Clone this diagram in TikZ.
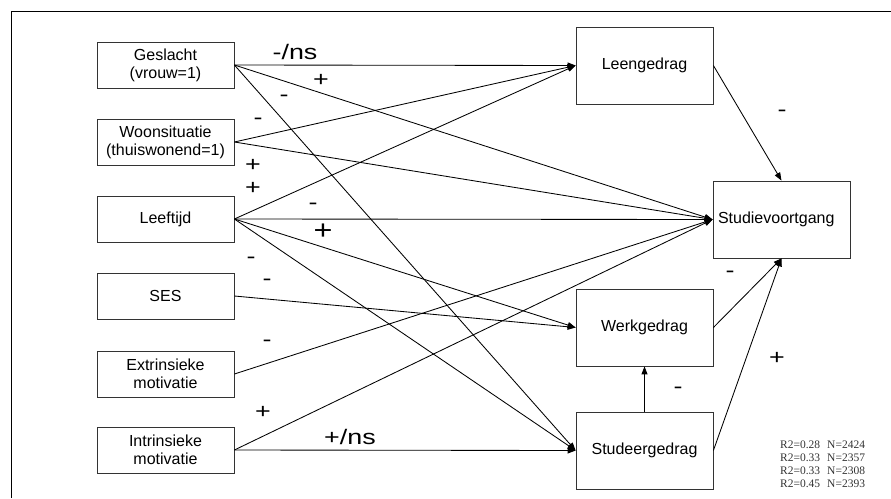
\documentclass[tikz,border=0pt]{standalone}
\usepackage{fontspec}
\usepackage{graphicx}
\setmainfont{Liberation Sans}
\newfontfamily\timesfont{Liberation Serif}
\usetikzlibrary{arrows.meta}
\begin{document}
\begin{tikzpicture}[x=1pt,y=-1pt,
  lbox/.style={draw=black!80, line width=0.8pt, minimum width=137pt, minimum height=46pt,
    align=center, inner sep=0pt, font=\fontsize{16}{18}\selectfont},
  rbox/.style={lbox, minimum height=77pt},
  arr/.style={-{Triangle[length=8pt,width=6pt]}, line width=0.85pt},
  sgn/.style={inner sep=0pt, font=\fontsize{21}{21}\selectfont},
  bigsgn/.style={inner sep=0pt, font=\fontsize{27}{27}\selectfont}]
\useasboundingbox (0,0) rectangle (891,498);
\fill[white] (0,0) rectangle (891,498);
\draw[line width=0.9pt] (11.5,498) -- (11.5,11.5) -- (891,11.5);

% left boxes
\node[lbox] (g) at (165.5,65) {Geslacht\\(vrouw=1)};
\node[lbox] (w) at (165.5,142) {Woonsituatie\\(thuiswonend=1)};
\node[lbox] (l) at (165.5,219) {Leeftijd};
\node[lbox] (s) at (165.5,296) {SES};
\node[lbox] (e) at (165.5,374) {Extrinsieke\\motivatie};
\node[lbox] (i) at (165.5,450) {Intrinsieke\\motivatie};

% right boxes
\node[rbox] (lg) at (644.5,65.5) {Leengedrag};
\node[rbox, text width=127pt, align=left, inner xsep=5pt] (sv) at (781.5,219.5) {Studievoortgang};
\node[rbox] (wg) at (644.5,327.5) {Werkgedrag};
\node[rbox] (sg) at (644.5,450.5) {Studeergedrag};

% connectors
\draw[arr] (g.east) -- (lg.west);
\draw[arr] (g.east) -- (sv.west);
\draw[arr] (g.east) -- (sg.west);
\draw[arr] (w.east) -- (lg.west);
\draw[arr] (w.east) -- (sv.west);
\draw[arr] (l.east) -- (lg.west);
\draw[arr] (l.east) -- (sv.west);
\draw[arr] (l.east) -- (wg.west);
\draw[arr] (l.east) -- (sg.west);
\draw[arr] (s.east) -- (wg.west);
\draw[arr] (e.east) -- (sv.west);
\draw[arr] (i.east) -- (sv.west);
\draw[arr] (i.east) -- (sg.west);
\draw[arr] (lg.east) -- (sv.north);
\draw[arr] (wg.east) -- (sv.south);
\draw[arr] (sg.east) -- (sv.south);
\draw[arr] (sg.north) -- (wg.south);

% labels
\node[sgn] (t1) at (295,52) {\scalebox{1.28}[1]{-/ns}};
\node[sgn] (t2) at (321,80) {\scalebox{1.28}[1]{+}};
\node[sgn] (t3) at (284,98) {\scalebox{1.28}[1]{-}};
\node[sgn] (t4) at (258,121) {\scalebox{1.28}[1]{-}};
\node[sgn] (t5) at (253,165) {\scalebox{1.28}[1]{+}};
\node[sgn] (t6) at (253,188) {\scalebox{1.28}[1]{+}};
\node[sgn] (t7) at (313,206) {\scalebox{1.28}[1]{-}};
\node[bigsgn] (t8) at (323,232) {\scalebox{1.2}[1]{+}};
\node[sgn] (t9) at (251,260) {\scalebox{1.28}[1]{-}};
\node[sgn] (t10) at (267,282) {\scalebox{1.28}[1]{-}};
\node[sgn] (t11) at (267,343) {\scalebox{1.28}[1]{-}};
\node[sgn] (t12) at (263,412) {\scalebox{1.28}[1]{+}};
\node[sgn] (t13) at (350,437) {\scalebox{1.28}[1]{+/ns}};
\node[sgn] (t14) at (782,113) {\scalebox{1.28}[1]{-}};
\node[sgn] (t15) at (730,274) {\scalebox{1.28}[1]{-}};
\node[sgn] (t16) at (777,358) {\scalebox{1.28}[1]{+}};
\node[sgn] (t17) at (678,390) {\scalebox{1.28}[1]{-}};

\node[anchor=north west, inner sep=0pt, align=left, text=black!80,
  font=\timesfont\fontsize{11.5}{13}\selectfont] (r2) at (780,440.5)
  {R2=0.28\hspace{7pt}N=2424\\R2=0.33\hspace{7pt}N=2357\\R2=0.33\hspace{7pt}N=2308\\R2=0.45\hspace{7pt}N=2393};
\end{tikzpicture}
\end{document}
